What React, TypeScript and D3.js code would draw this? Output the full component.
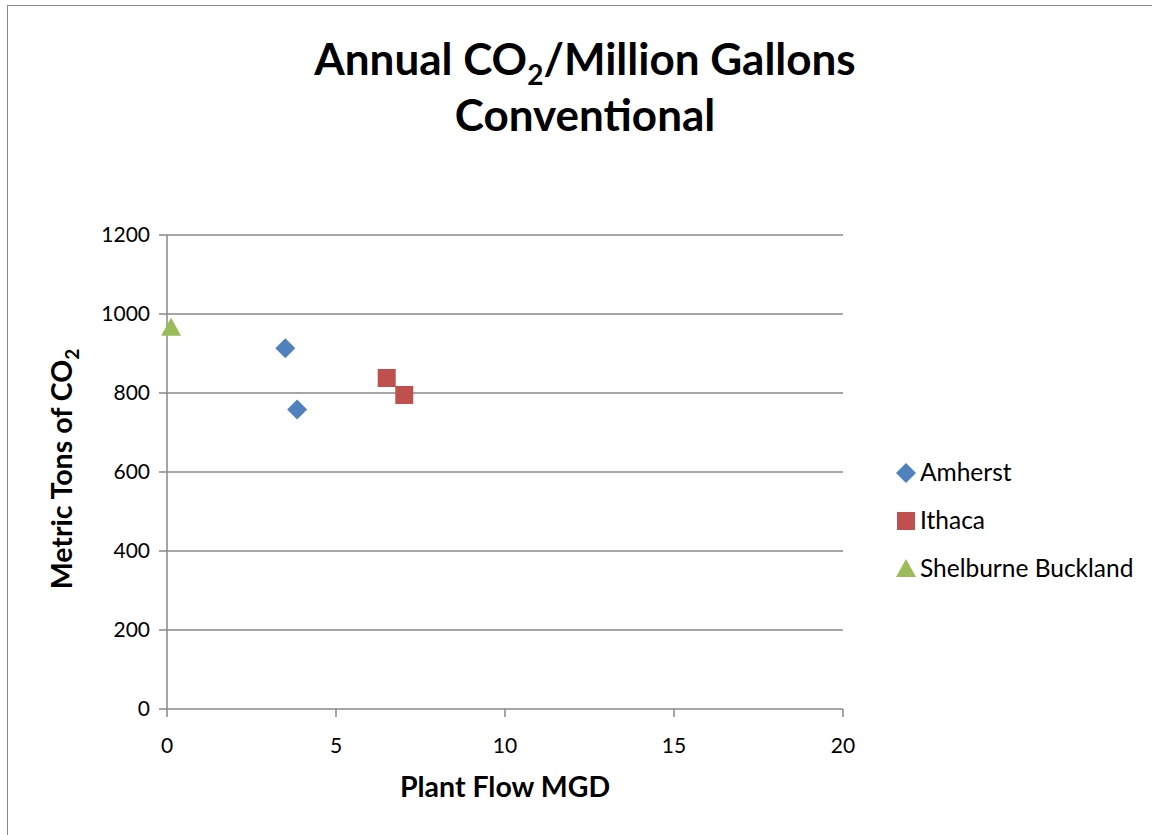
import React from "react";
import * as d3 from "d3";

const xTicks = [0, 5, 10, 15, 20];
const yTicks = [0, 200, 400, 600, 800, 1000, 1200];
const seriesNames = ["Amherst", "Ithaca", "Shelburne Buckland"];
const seriesColors = ["#4F81BD", "#C0504D", "#9BBB59"];
const amherstX = [3.5, 3.85];
const amherstY = [913, 758];
const ithacaX = [6.5, 7.02];
const ithacaY = [838, 795];
const shelburneX = [0.12];
const shelburneY = [965];

const FONT = "Lato, 'Open Sans', sans-serif";

function marker(kind: number, x: number, y: number, color: string, key: string) {
  if (kind === 0) {
    const s = 10;
    return <path key={key} d={`M${x},${y - s}L${x + s},${y}L${x},${y + s}L${x - s},${y}Z`} fill={color} />;
  }
  if (kind === 1) {
    const s = 9;
    return <rect key={key} x={x - s} y={y - s} width={2 * s} height={2 * s} fill={color} />;
  }
  const s = 10;
  return <path key={key} d={`M${x},${y - s}L${x + s},${y + 8}L${x - s},${y + 8}Z`} fill={color} />;
}

export default function App() {
  const x = d3.scaleLinear().domain([0, 20]).range([167, 843]);
  const y = d3.scaleLinear().domain([0, 1200]).range([709, 235]);
  const series = [
    { xs: amherstX, ys: amherstY },
    { xs: ithacaX, ys: ithacaY },
    { xs: shelburneX, ys: shelburneY },
  ];
  return (
    <svg width={1152} height={835} style={{ position: "absolute", left: 0, top: 0, background: "#fff" }} fontFamily={FONT}>
      <rect x={7.5} y={5.5} width={1160} height={840} fill="#fff" stroke="#888" strokeWidth={1} />
      <text x={585} y={75} textAnchor="middle" fontSize={44} fontWeight="bold" fill="#000">
        Annual CO<tspan fontSize={28} dy={10}>2</tspan><tspan dy={-10}>/Million Gallons</tspan>
      </text>
      <text x={585} y={131} textAnchor="middle" fontSize={44} fontWeight="bold" fill="#000">Conventional</text>
      {yTicks.map((t) => (
        <g key={"y" + t}>
          <line x1={159} x2={843} y1={y(t)} y2={y(t)} stroke="#888" strokeWidth={1.5} />
          <text x={150} y={y(t) + 7} textAnchor="end" fontSize={21} fill="#000">{t}</text>
        </g>
      ))}
      <line x1={x(0)} x2={x(0)} y1={y(1200)} y2={y(0)} stroke="#888" strokeWidth={1.5} />
      {xTicks.map((t) => (
        <g key={"x" + t}>
          <line x1={x(t)} x2={x(t)} y1={y(0)} y2={y(0) + 8} stroke="#888" strokeWidth={1.5} />
          <text x={x(t)} y={753} textAnchor="middle" fontSize={21} fill="#000">{t}</text>
        </g>
      ))}
      <text x={505} y={797} textAnchor="middle" fontSize={28.5} fontWeight="bold" fill="#000">Plant Flow MGD</text>
      <text transform="translate(72,469) rotate(-90)" textAnchor="middle" fontSize={28.5} fontWeight="bold" fill="#000">
        Metric Tons of CO<tspan fontSize={19} dy={7}>2</tspan>
      </text>
      {series.map((s, i) =>
        s.xs.map((v, j) => marker(i, x(v), y(s.ys[j]), seriesColors[i], `m${i}-${j}`))
      )}
      {seriesNames.map((n, i) => (
        <g key={n}>
          {marker(i, 906, 473 + i * 48, seriesColors[i], "l" + i)}
          <text x={920} y={481 + i * 48} fontSize={24.5} fill="#000">{n}</text>
        </g>
      ))}
    </svg>
  );
}
